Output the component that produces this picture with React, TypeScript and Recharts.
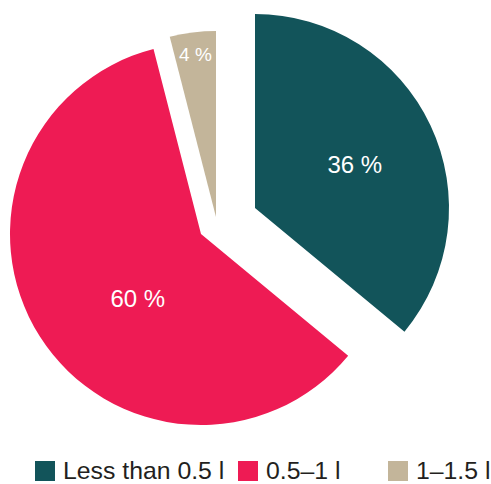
import { PieChart, Pie, Cell, Legend } from "recharts";

const categories = ["Less than 0.5 l", "0.5–1 l", "1–1.5 l"];
const shares = [36, 60, 4];

const colors = ["#12545A", "#EE1B54", "#C3B59A"];

// each slice is drawn by its own pie so it can be pulled out from the centre
const slices = [
  { cx: 255, cy: 208, r: 194, labelR: 109, labelTweak: -1.5, fontSize: 24 },
  { cx: 201, cy: 234, r: 191, labelR: 90, labelTweak: 13, fontSize: 24 },
  { cx: 216, cy: 217, r: 186, labelR: 164, labelTweak: 0, fontSize: 19 },
];

const data = categories.map((name, i) => ({ name, value: shares[i] }));
const RAD = Math.PI / 180;

function LegendRow() {
  const xs = [35, 238, 388];
  return (
    <svg width={491} height={26} style={{ display: "block" }}>
      {categories.map((c, i) => (
        <g key={c}>
          <rect x={xs[i]} y={3} width={20} height={20} fill={colors[i]} />
          <text x={xs[i] + 28} y={21} fontSize={24.8} fill="#231F20" fontFamily="Liberation Sans, Arial, sans-serif">
            {c}
          </text>
        </g>
      ))}
    </svg>
  );
}

export default function App() {
  return (
    <div style={{ position: "absolute", left: 0, top: 0 }}>
      <PieChart width={491} height={484} margin={{ top: 0, right: 0, bottom: 0, left: 0 }}>
        {slices.map((s, k) => (
          <Pie
            key={k}
            data={data}
            dataKey="value"
            nameKey="name"
            cx={s.cx}
            cy={s.cy}
            outerRadius={s.r}
            innerRadius={0}
            startAngle={90}
            endAngle={-270}
            isAnimationActive={false}
            labelLine={false}
            legendType="none"
            label={(p: any) => {
              if (p.index !== k) return null;
              const a = (p.midAngle + s.labelTweak) * RAD;
              const x = p.cx + s.labelR * Math.cos(-a);
              const y = p.cy + s.labelR * Math.sin(-a);
              return (
                <text
                  x={x}
                  y={y}
                  fill="#fff"
                  fontSize={s.fontSize}
                  textAnchor="middle"
                  dominantBaseline="central"
                  fontFamily="Liberation Sans, Arial, sans-serif"
                >
                  {`${p.value} %`}
                </text>
              );
            }}
          >
            {data.map((d, i) => (
              <Cell key={d.name} fill={i === k ? colors[i] : "none"} stroke="none" />
            ))}
          </Pie>
        ))}
        <Legend
          content={() => <LegendRow />}
          wrapperStyle={{ position: "absolute", left: 0, top: 458, width: 491 }}
        />
      </PieChart>
    </div>
  );
}
